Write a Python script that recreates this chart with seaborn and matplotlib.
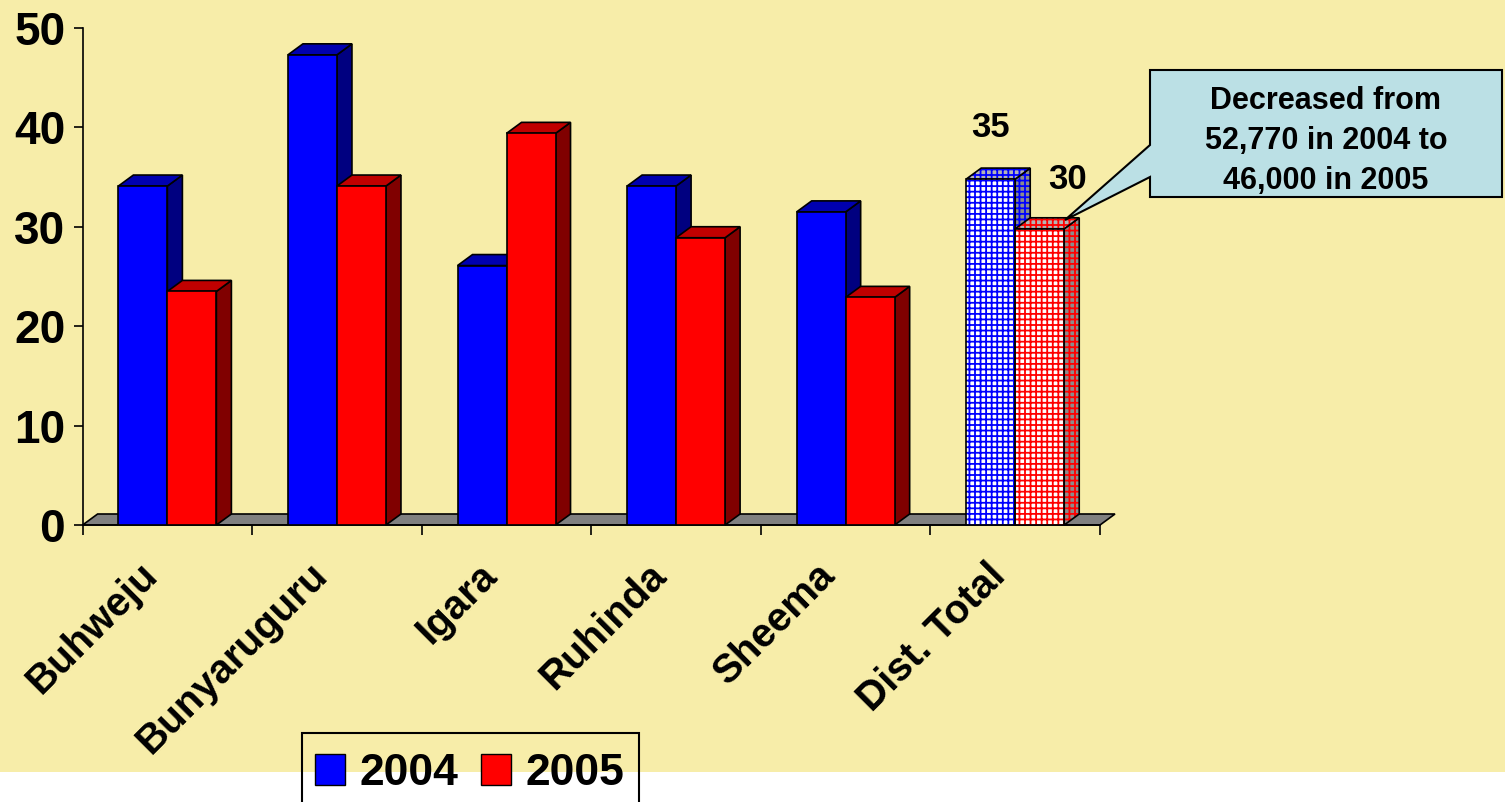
import numpy as np
import matplotlib
matplotlib.use("Agg")
import matplotlib.pyplot as plt
import matplotlib.transforms as mtransforms
import seaborn as sns
import pandas as pd
from matplotlib.patches import Polygon, Rectangle, Patch

districts = ["Buhweju", "Bunyaruguru", "Igara", "Ruhinda", "Sheema", "Dist. Total"]
years = ["2004", "2005"]
val_2004 = [34.1, 47.3, 26.1, 34.1, 31.5, 34.8]
val_2005 = [23.5, 34.1, 39.4, 28.9, 22.9, 29.8]
total_labels = ["35", "30"]
callout = "Decreased from\n52,770 in 2004 to\n46,000 in 2005"

df = pd.DataFrame({
    "District": districts * 2,
    "Year": [years[0]] * len(districts) + [years[1]] * len(districts),
    "Value": val_2004 + val_2005,
})

plt.rcParams["font.family"] = ["Liberation Sans", "DejaVu Sans"]
plt.rcParams["font.weight"] = "bold"
plt.rcParams["hatch.linewidth"] = 1.3

W, H = 1505, 802
BG = "#F7EDA9"
front = ["#0000FF", "#FF0000"]
top_c = ["#0000B0", "#C00000"]
side_c = ["#000080", "#800000"]
DX, DY = 15, 11  # depth offset in pixels

def fx(px):
    return px / W

def fy(py):
    return 1 - py / H

fig = plt.figure(figsize=(W / 100, H / 100), dpi=100, facecolor="white")
fig.patches.append(Rectangle((0, fy(772)), 1, 1 - fy(772), transform=fig.transFigure,
                             facecolor=BG, edgecolor="none", zorder=-10))

ax = fig.add_axes([fx(82.6), fy(525), fx(1100) - fx(82.6), fy(28) - fy(525)])
ax.set_facecolor("none")

sns.barplot(data=df, x="District", y="Value", hue="Year", palette=front, width=0.578,
            saturation=1, edgecolor="black", linewidth=1.2, errorbar=None,
            legend=False, zorder=3, ax=ax)

ax.set_xlim(-0.5, 5.5)
ax.set_ylim(0, 50)
ax.set_xlabel("")
ax.set_ylabel("")

# pixel depth -> data units
p0 = ax.transData.transform((0, 0))
p1 = ax.transData.transform((1, 1))
ddx = DX / (p1[0] - p0[0])
ddy = DY / (p1[1] - p0[1])

# floor
floor = [(-0.5, 0), (5.5, 0), (5.5 + ddx, ddy), (-0.5 + ddx, ddy)]
ax.add_patch(Polygon(floor, closed=True, facecolor="#808080", edgecolor="black",
                     lw=1.2, zorder=1, clip_on=False))

def add_face(pts, fc, z, hatch_color=None):
    if hatch_color is not None:
        ax.add_patch(Polygon(pts, closed=True, facecolor=fc, edgecolor=hatch_color,
                             hatch="+++", lw=0, zorder=z, clip_on=False))
        ax.add_patch(Polygon(pts, closed=True, fill=False, edgecolor="black",
                             lw=1.2, zorder=z, clip_on=False))
    else:
        ax.add_patch(Polygon(pts, closed=True, facecolor=fc, edgecolor="black",
                             lw=1.2, zorder=z, clip_on=False))

n = len(districts)
for i in range(n):
    for h, cont in enumerate(ax.containers):
        bar = cont.patches[i]
        x0, w, v = bar.get_x(), bar.get_width(), bar.get_height()
        top = [(x0, v), (x0 + w, v), (x0 + w + ddx, v + ddy), (x0 + ddx, v + ddy)]
        side = [(x0 + w, 0), (x0 + w + ddx, ddy), (x0 + w + ddx, v + ddy), (x0 + w, v)]
        if districts[i] == "Dist. Total":
            add_face(side, "#8C8C8C", 2, front[h])
            add_face(top, "#B4B4B4", 2, front[h])
            bar.set_facecolor("white")
            bar.set_edgecolor(front[h])
            bar.set_hatch("+++")
            bar.set_linewidth(0)
            ax.add_patch(Rectangle((x0, 0), w, v, fill=False, edgecolor="black",
                                   lw=1.2, zorder=3))
        else:
            add_face(side, side_c[h], 2)
            add_face(top, top_c[h], 2)

# value labels on the total bars
offsets = [(0, 52), (28, 49)]
for h, cont in enumerate(ax.containers):
    bar = cont.patches[n - 1]
    ax.annotate(total_labels[h], (bar.get_x() + bar.get_width() / 2, bar.get_height()),
                xytext=offsets[h], textcoords="offset pixels", ha="center", va="center",
                fontsize=25, fontweight="bold", zorder=5, annotation_clip=False)

# axes styling
for s in ["top", "right"]:
    ax.spines[s].set_visible(False)
ax.spines["left"].set_linewidth(1.2)
ax.spines["bottom"].set_linewidth(1.2)
ax.set_yticks(np.arange(0, 51, 10))
ax.tick_params(axis="y", direction="out", length=6.5, width=1.2, pad=6, labelsize=33)
ax.set_xticks(range(n))
ax.set_xticks(np.arange(-0.5, n, 1), minor=True)
ax.tick_params(axis="x", which="major", length=0, pad=32, labelsize=29)
ax.tick_params(axis="x", which="minor", direction="out", length=7, width=1.2)
ax.set_xticklabels(districts, rotation=45, ha="right", va="center", rotation_mode="anchor")
shift = mtransforms.ScaledTranslation(-0.16, 0, fig.dpi_scale_trans)
for t in ax.get_xticklabels():
    t.set_transform(t.get_transform() + shift)
for t in ax.get_yticklabels() + ax.get_xticklabels():
    t.set_fontweight("bold")

# callout box with pointer
tip = (1065, 220)
box = [(1150, 70), (1502, 70), (1502, 197), (1150, 197), (1150, 177), tip, (1150, 145)]
fig.patches.append(Polygon([(fx(a), fy(b)) for a, b in box], closed=True,
                           transform=fig.transFigure, facecolor="#BBE0E5",
                           edgecolor="black", lw=1.5, zorder=6))
fig.text(fx(1326), fy(141), callout, ha="center", va="center", fontsize=22,
         fontweight="bold", linespacing=1.42, zorder=7)

# legend (frame runs off the bottom edge)
fig.patches.append(Rectangle((fx(302), fy(830)), fx(639) - fx(302), fy(733) - fy(830),
                             transform=fig.transFigure, fill=False, edgecolor="black",
                             lw=1.5, zorder=5))
handles = [Patch(facecolor=front[0], edgecolor="black"),
           Patch(facecolor=front[1], edgecolor="black")]
leg = fig.legend(handles, years, loc="upper left", bbox_to_anchor=(fx(306), fy(744)),
                 bbox_transform=fig.transFigure, ncol=2, frameon=False,
                 prop=dict(size=32, weight="bold"), handlelength=0.68, handleheight=0.68,
                 handletextpad=0.33, columnspacing=0.5, borderpad=0.2, borderaxespad=0)

fig.savefig("out.png", dpi=100, facecolor="white")
